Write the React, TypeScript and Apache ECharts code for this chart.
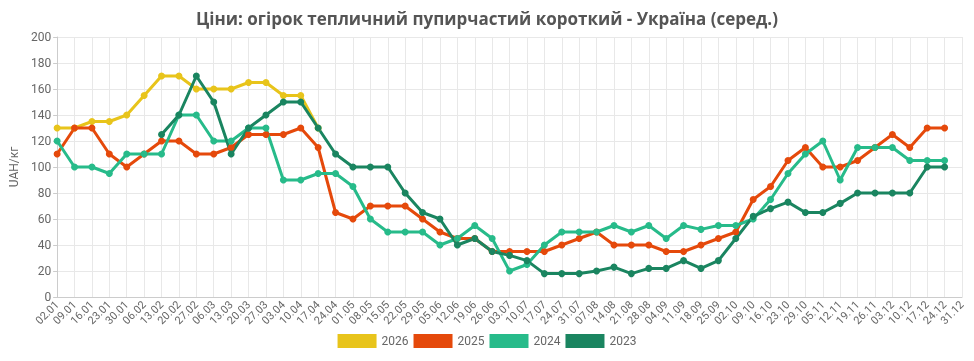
import React, { useEffect, useRef } from "react";
import * as echarts from "echarts";

const categories = [
  "02.01","09.01","16.01","23.01","30.01","06.02","13.02","20.02","27.02","06.03","13.03","20.03","27.03",
  "03.04","10.04","17.04","24.04","01.05","08.05","15.05","22.05","29.05","05.06","12.06","19.06","26.06",
  "03.07","10.07","17.07","24.07","31.07","07.08","14.08","21.08","28.08","04.09","11.09","18.09","25.09",
  "02.10","09.10","16.10","23.10","29.10","05.11","12.11","19.11","26.11","03.12","10.12","17.12","24.12","31.12",
];

const n = null;

const s2026 = [130,130,135,135,140,155,170,170,160,160,160,165,165,155,155,130];

const s2025 = [110,130,130,110,100,110,120,120,110,110,115,125,125,125,130,115,
  65,60,70,70,70,60,50,45,45,35,35,35,35,40,45,50,40,40,40,35,35,40,45,50,
  75,85,105,115,100,100,105,115,125,115,130,130];

const s2024 = [120,100,100,95,110,110,110,140,140,120,120,130,130,90,90,95,
  95,85,60,50,50,50,40,45,55,45,20,25,40,50,50,50,55,50,55,45,55,52,55,55,
  60,75,95,110,120,90,115,115,115,105,105,105];

const s2023 = [n,n,n,n,n,n,125,140,170,150,110,130,140,150,150,130,
  110,100,100,100,80,65,60,40,45,35,32,28,18,18,18,20,23,18,22,22,28,22,28,45,
  62,68,73,65,65,72,80,80,80,80,100,100];

const seriesNames = ["2026", "2025", "2024", "2023"];
const seriesColors = ["#e8c41b", "#e5490b", "#27bb8a", "#1a8560"];
const seriesData = [s2026, s2025, s2024, s2023];

const yTicks = { min: 0, max: 200, interval: 20 };

export default function App() {
  const ref = useRef<HTMLDivElement>(null);
  useEffect(() => {
    if (!ref.current) return;
    const chart = echarts.init(ref.current, undefined, { renderer: "svg" });
    chart.setOption({
      animation: false,
      title: {
        text: "Ціни: огірок тепличний пупирчастий короткий - Україна (серед.)",
        left: "center",
        top: 5,
        textStyle: { fontFamily: "Open Sans", fontSize: 17, fontWeight: "bold", color: "#555" },
      },
      legend: {
        bottom: 8,
        left: "center",
        icon: "rect",
        itemWidth: 39,
        itemHeight: 14,
        itemGap: 5,
        textStyle: { fontFamily: "Roboto", fontSize: 12, color: "#666" },
        data: seriesNames,
      },
      grid: { left: 52, right: 12, top: 37, bottom: 64 },
      xAxis: {
        type: "category",
        data: categories,
        boundaryGap: false,
        axisLine: { lineStyle: { color: "#ccc" } },
        axisTick: { show: false },
        axisLabel: { rotate: 45, interval: 0, fontFamily: "Roboto", fontSize: 11, color: "#666", margin: 6 },
        splitLine: { show: true, lineStyle: { color: "#e8e8e8" } },
      },
      yAxis: {
        type: "value",
        min: yTicks.min,
        max: yTicks.max,
        interval: yTicks.interval,
        name: "UAH/кг",
        nameLocation: "middle",
        nameGap: 36,
        nameTextStyle: { fontFamily: "Roboto", fontSize: 12, color: "#666" },
        axisLine: { show: true, lineStyle: { color: "#ccc" } },
        axisTick: { show: true, length: 4, lineStyle: { color: "#ccc" } },
        axisLabel: { fontFamily: "Roboto", fontSize: 12, color: "#666", margin: 6 },
        splitLine: { show: true, lineStyle: { color: "#e8e8e8" } },
      },
      series: seriesNames.map((name, i) => ({
        name,
        type: "line",
        data: seriesData[i],
        color: seriesColors[i],
        symbol: "circle",
        symbolSize: 7,
        lineStyle: { width: 3 },
        connectNulls: false,
      })),
    });
    return () => chart.dispose();
  }, []);
  return (
    <div
      ref={ref}
      style={{ position: "fixed", left: 0, top: 0, width: 974, height: 361 }}
    />
  );
}
